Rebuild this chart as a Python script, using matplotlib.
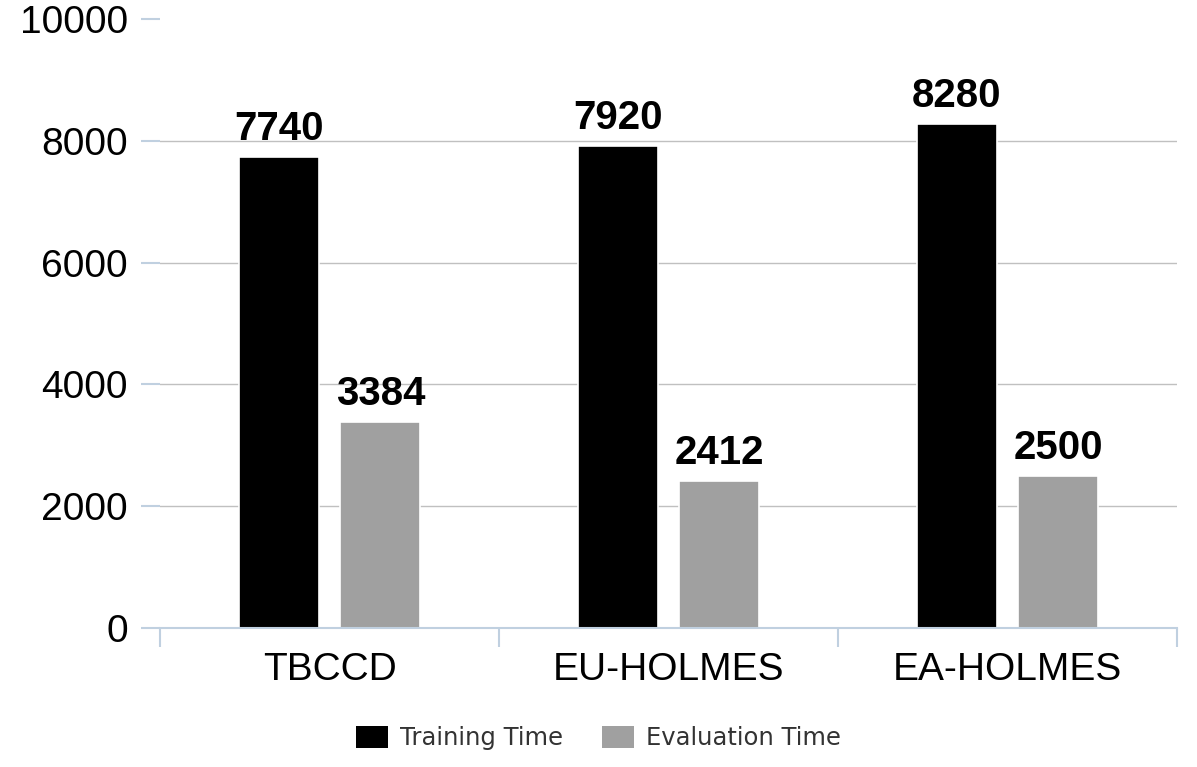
#!/usr/bin/env python3
"""Training vs evaluation time per model, grouped bar chart."""
import numpy as np
import matplotlib
matplotlib.use("Agg")
import matplotlib.pyplot as plt
from matplotlib.ticker import FixedLocator

models = ["TBCCD", "EU-HOLMES", "EA-HOLMES"]
training_time = [7740, 7920, 8280]
evaluation_time = [3384, 2412, 2500]
y_ticks = [0, 2000, 4000, 6000, 8000, 10000]

TRAIN_COLOR = "#000000"
EVAL_COLOR = "#a0a0a0"
AXIS_COLOR = "#c0d0e0"
GRID_COLOR = "#c0c0c0"

plt.rcParams["font.family"] = ["Liberation Sans", "DejaVu Sans"]

fig = plt.figure(figsize=(11.97, 7.67), dpi=100)
ax = fig.add_axes([160 / 1197, 1 - 628 / 767, 1017 / 1197, 609 / 767])

x = np.arange(len(models))
width = 0.236
offset = 0.15

# horizontal grid lines, not at 0 or the top
for t in y_ticks[1:-1]:
    ax.axhline(t, color=GRID_COLOR, lw=1.0, zorder=0)

b1 = ax.bar(x - offset, training_time, width, color=TRAIN_COLOR,
            edgecolor="white", linewidth=1.2, label="Training Time", zorder=2)
b2 = ax.bar(x + offset, evaluation_time, width, color=EVAL_COLOR,
            edgecolor="white", linewidth=1.2, label="Evaluation Time", zorder=2)

for bars in (b1, b2):
    for rect in bars:
        h = rect.get_height()
        ax.annotate(f"{h:.0f}", (rect.get_x() + rect.get_width() / 2, h),
                    xytext=(0, 12), textcoords="offset points",
                    ha="center", va="baseline", fontsize=29, fontweight="bold",
                    color="black")

ax.set_xlim(-0.5, len(models) - 0.5)
ax.set_ylim(0, 10000)

ax.set_yticks(y_ticks)
ax.set_yticklabels([str(t) for t in y_ticks])
ax.tick_params(axis="y", length=14, width=1.5, color=AXIS_COLOR, pad=9,
               labelsize=28, labelcolor="black")

ax.set_xticks(x)
ax.set_xticklabels(models)
ax.xaxis.set_minor_locator(FixedLocator(np.arange(len(models) + 1) - 0.5))
ax.tick_params(axis="x", which="major", length=0, pad=17, labelsize=28,
               labelcolor="black")
ax.tick_params(axis="x", which="minor", length=14, width=1.5, color=AXIS_COLOR)

for side in ("top", "right", "left"):
    ax.spines[side].set_visible(False)
ax.spines["bottom"].set_color(AXIS_COLOR)
ax.spines["bottom"].set_linewidth(1.5)
ax.spines["bottom"].set_zorder(3)

leg = fig.legend(handles=[b1, b2], loc="center", bbox_to_anchor=(0.5, 1 - 738 / 767),
                 ncol=2, frameon=False, prop={"family": "DejaVu Sans", "size": 17.5},
                 handlelength=1.32, handleheight=1.0, handletextpad=0.5,
                 columnspacing=1.6)
for txt in leg.get_texts():
    txt.set_color("#333333")
for h in leg.legend_handles:
    h.set_edgecolor("none")

fig.savefig("out.png", dpi=100)
